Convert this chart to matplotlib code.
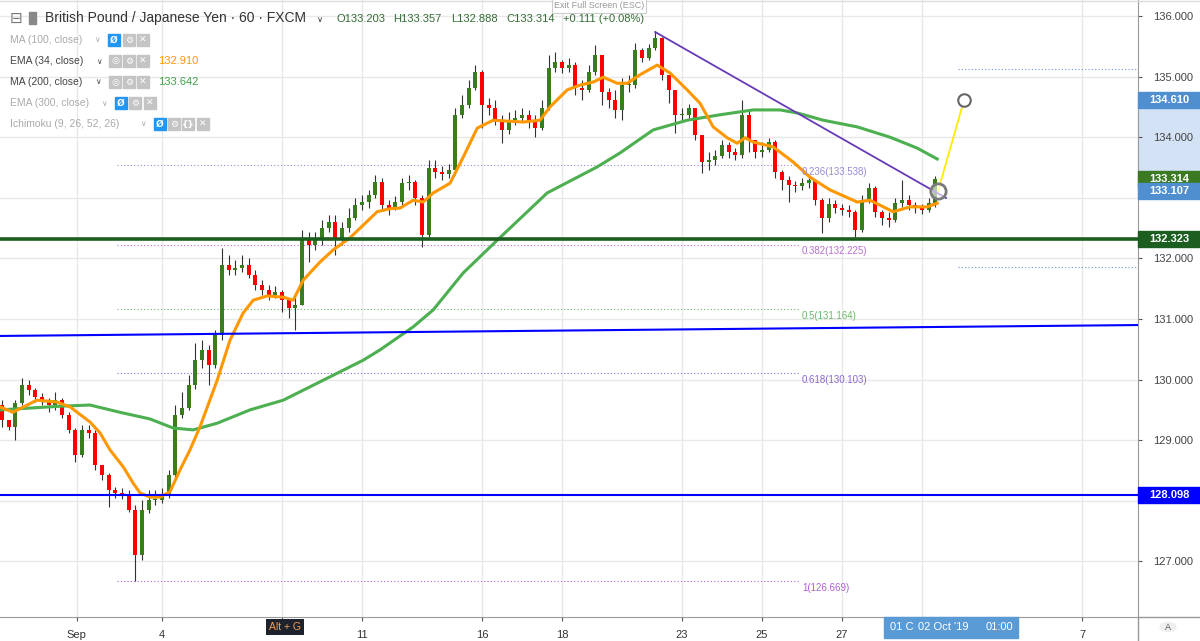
import matplotlib
matplotlib.use('Agg')
import matplotlib.pyplot as plt
import matplotlib.transforms as mtransforms
from matplotlib.patches import Rectangle, Circle
import numpy as np

plt.rcParams['font.family'] = ['Liberation Sans', 'DejaVu Sans']

# GBP/JPY, bars of 4 hours; time axis in trading days (0 = Mon 2 Sep 00:00)
bar_first_t = -2.0
bars_per_day = 6
first_open = 129.58

closes = [129.33, 129.22, 129.61, 129.91, 129.83, 129.71, 129.66, 129.58, 129.66, 129.42,
          129.17, 128.76, 129.17, 129.12, 128.59, 128.43, 128.18, 128.13, 128.11, 127.85,
          127.11, 127.85, 128.01, 128.01, 128.10, 128.43, 129.42, 129.53, 129.91, 130.32,
          130.49, 130.24, 130.74, 131.89, 131.81, 131.84, 131.89, 131.73, 131.56, 131.48,
          131.40, 131.45, 131.31, 131.18, 131.23, 132.30, 132.22, 132.30, 132.50, 132.60,
          132.30, 132.50, 132.67, 132.88, 132.93, 133.05, 133.26, 132.88, 132.83, 132.93,
          133.24, 133.26, 133.00, 132.39, 133.49, 133.43, 133.39, 133.46, 134.37, 134.53,
          134.81, 135.08, 134.53, 134.48, 134.28, 134.12, 134.28, 134.32, 134.37, 134.28,
          134.15, 134.48, 135.14, 135.24, 135.14, 135.19, 134.81, 134.78, 135.08, 135.36,
          134.75, 134.61, 134.45, 134.86, 134.86, 135.44, 135.31, 135.47, 135.64, 135.03,
          134.78, 134.37, 134.37, 134.48, 134.04, 133.59, 133.62, 133.69, 133.87, 133.76,
          133.71, 134.37, 133.95, 133.76, 133.79, 133.92, 133.43, 133.29, 133.21, 133.19,
          133.24, 133.29, 132.96, 132.67, 132.90, 132.83, 132.80, 132.77, 132.47, 132.96,
          133.16, 132.77, 132.67, 132.63, 132.91, 132.96, 132.88, 132.83, 132.80, 132.91,
          133.31]
highs = [129.66, 129.33, 129.66, 130.03, 129.99, 129.86, 129.78, 129.70, 129.80, 129.70,
         129.47, 129.20, 129.25, 129.25, 129.17, 128.59, 128.46, 128.23, 128.21, 128.18,
         127.93, 128.01, 128.18, 128.18, 128.21, 128.51, 129.58, 129.80, 130.08, 130.60,
         130.65, 130.57, 130.82, 132.17, 132.06, 131.97, 132.06, 132.01, 131.81, 131.64,
         131.56, 131.54, 131.48, 131.35, 131.40, 132.47, 132.44, 132.44, 132.63, 132.72,
         132.72, 132.60, 132.83, 133.00, 133.05, 133.13, 133.38, 133.33, 132.96, 133.03,
         133.33, 133.38, 133.29, 133.05, 133.62, 133.62, 133.52, 133.56, 134.48, 134.70,
         134.94, 135.19, 135.11, 134.65, 134.61, 134.37, 134.42, 134.45, 134.48, 134.45,
         134.37, 134.61, 135.36, 135.41, 135.27, 135.31, 135.24, 134.94, 135.19, 135.52,
         135.36, 134.81, 134.78, 134.98, 135.03, 135.55, 135.47, 135.54, 135.75, 135.66,
         135.03, 134.78, 134.48, 134.55, 134.48, 134.04, 133.76, 133.79, 133.95, 133.92,
         133.82, 134.61, 134.45, 133.95, 133.92, 133.99, 133.95, 133.46, 133.36, 133.28,
         133.33, 133.36, 133.29, 133.00, 133.00, 132.96, 132.90, 132.88, 132.80, 133.05,
         133.24, 133.19, 132.80, 132.77, 133.00, 133.29, 133.05, 132.93, 132.90, 133.00,
         133.36]
lows = [129.22, 129.17, 129.00, 129.58, 129.75, 129.63, 129.58, 129.47, 129.50, 129.37,
        129.12, 128.64, 128.72, 129.04, 128.51, 128.34, 127.90, 128.05, 128.03, 127.82,
        126.67, 127.02, 127.80, 127.93, 127.96, 128.05, 128.38, 129.37, 129.50, 129.85,
        130.19, 129.91, 130.19, 130.65, 131.73, 131.73, 131.78, 131.68, 131.48, 131.40,
        131.31, 131.35, 131.12, 131.02, 130.82, 131.23, 131.94, 132.14, 132.22, 132.44,
        132.06, 132.22, 132.44, 132.63, 132.80, 132.83, 133.00, 132.80, 132.72, 132.80,
        132.88, 133.13, 132.88, 132.19, 132.35, 133.33, 133.29, 133.33, 133.38, 134.32,
        134.48, 134.78, 134.15, 134.37, 134.20, 133.90, 134.05, 134.20, 134.25, 134.15,
        134.00, 134.12, 134.45, 135.08, 135.06, 135.08, 134.70, 134.61, 134.75, 135.03,
        134.53, 134.48, 134.32, 134.28, 134.75, 134.81, 135.24, 135.27, 135.44, 134.94,
        134.56, 134.07, 134.25, 134.32, 133.95, 133.41, 133.46, 133.54, 133.66, 133.66,
        133.62, 133.66, 133.76, 133.66, 133.67, 133.76, 133.33, 133.13, 132.93, 133.10,
        133.13, 133.16, 132.88, 132.42, 132.60, 132.75, 132.72, 132.68, 132.35, 132.44,
        132.91, 132.68, 132.55, 132.52, 132.60, 132.85, 132.80, 132.75, 132.73, 132.77,
        132.85]

# EMA(34) and MA(200)
ema34_t = [-2.05, -1.73, -1.13, -0.63, -0.30, 0.20, 0.45, 0.70, 1.03, 1.28, 1.45, 1.70, 1.95,
           2.20, 2.45, 2.70, 2.95, 3.38, 3.70, 4.03, 4.28, 4.63, 5.03, 5.28, 5.53, 5.95, 6.28,
           6.70, 7.38, 7.70, 7.95, 8.28, 8.53, 8.78, 9.20, 9.53, 9.88, 10.28, 11.03, 11.45,
           11.70, 12.13, 12.45, 12.78, 13.03, 13.38, 13.63, 13.95, 14.38, 14.70, 15.13, 15.45,
           15.78, 16.13, 16.38, 16.58, 16.78, 17.28, 17.78, 18.20, 18.70, 19.38, 19.70, 20.28,
           20.70, 21.13, 21.38]
ema34_v = [129.55, 129.46, 129.66, 129.63, 129.55, 129.30, 129.12, 128.84, 128.56, 128.29,
           128.13, 128.06, 128.06, 128.15, 128.51, 128.84, 129.22, 129.99, 130.65, 131.10,
           131.31, 131.38, 131.36, 131.31, 131.64, 131.94, 132.14, 132.34, 132.77, 132.82,
           132.83, 132.96, 132.93, 133.08, 133.24, 133.67, 134.15, 134.28, 134.25, 134.28,
           134.50, 134.78, 134.86, 134.91, 134.99, 134.89, 134.89, 135.03, 135.19, 135.06,
           134.78, 134.56, 134.17, 133.99, 133.90, 133.99, 133.92, 133.84, 133.59, 133.34,
           133.13, 132.93, 132.96, 132.77, 132.85, 132.85, 132.91]
ma200_t = [-2.05, -1.30, -0.55, 0.20, 0.95, 1.70, 2.28, 2.78, 3.38, 4.20, 5.03, 5.88, 7.03,
           7.45, 8.28, 8.78, 9.53, 10.38, 11.63, 12.88, 13.45, 14.28, 15.13, 15.95, 16.78,
           17.45, 17.88, 18.53, 19.38, 20.20, 20.88, 21.38]
ma200_v = [129.50, 129.53, 129.56, 129.58, 129.46, 129.35, 129.20, 129.17, 129.28, 129.50,
           129.66, 129.94, 130.32, 130.49, 130.87, 131.15, 131.76, 132.30, 133.08, 133.51,
           133.74, 134.12, 134.28, 134.37, 134.45, 134.45, 134.40, 134.28, 134.17, 134.00,
           133.82, 133.64]

# fibonacci retracement
fib_names = ['0.236', '0.382', '0.5', '0.618', '1']
fib_levels = [133.538, 132.225, 131.164, 130.103, 126.669]
fib_colors = ['#9a8bd4', '#b86fd0', '#6cb86a', '#8a68cc', '#b05ed6']
fib_t = [0.88, 17.95]

# drawings
support = 132.323
low_line = 128.098
blue_trend_t = [-2.05, 26.4]
blue_trend_v = [130.72, 130.90]
purple_t = [14.33, 21.60]
purple_v = [135.736, 132.997]
target_t = [21.40, 22.05]
target_v = [133.107, 134.610]
range_lines = [135.125, 131.858]

x_ticks = [-0.13, 2, 5, 7, 10, 12, 15, 17, 19, 21, 25]
x_labels = ['Sep', '4', '', '11', '16', '18', '23', '25', '27', '', '7']
y_ticks = [127, 128, 129, 130, 131, 132, 133, 134, 135, 136]
hidden_y = [128, 133]   # covered by price badges

W, H = 1200, 641
fig = plt.figure(figsize=(W / 100, H / 100), dpi=100)
ax = fig.add_axes([0, 24 / H, 1138 / W, 617 / H])
ax.set_xlim(-2.05, 26.4)
ax.set_ylim(126.082, 136.264)

# grid
ax.set_yticks(y_ticks)
ax.set_yticklabels(['' if v in hidden_y else '%.3f' % v for v in y_ticks])
ax.set_xticks(x_ticks)
ax.set_xticklabels(x_labels)
ax.grid(True, color='#e8e8e8', lw=1, zorder=0)
ax.set_axisbelow(True)
ax.yaxis.tick_right()
ax.tick_params(axis='y', colors='#555555', labelsize=8, length=3, pad=8, labelcolor='#444444')
ax.tick_params(axis='x', colors='#555555', labelsize=8, length=3, pad=6, labelcolor='#333333')
for s in ['top', 'left']:
    ax.spines[s].set_visible(False)
ax.spines['right'].set_color('#999999')
ax.spines['bottom'].set_color('#999999')

# candles
o = np.array([first_open] + closes[:-1])
c = np.array(closes)
hi = np.array(highs)
lo = np.array(lows)
bt = bar_first_t + np.arange(len(closes)) / bars_per_day
up = c >= o
ax.vlines(bt, lo, hi, color='#333333', lw=0.8, zorder=2)
body = np.maximum(np.abs(c - o), 0.015)
ax.bar(bt[up], body[up], bottom=np.minimum(o, c)[up], width=0.1, color='#3a7d1e', zorder=2.1)
ax.bar(bt[~up], body[~up], bottom=np.minimum(o, c)[~up], width=0.1, color='#ff0000', zorder=2.1)

# moving averages
ax.plot(ma200_t, ma200_v, color='#4caf50', lw=2.2, zorder=3, solid_joinstyle='round')
ax.plot(ema34_t, ema34_v, color='#ff9800', lw=2.2, zorder=3.1, solid_joinstyle='round')

# fib levels
for name, lev, col in zip(fib_names, fib_levels, fib_colors):
    ax.hlines(lev, fib_t[0], fib_t[1], colors=col, lw=0.8, linestyles=(0, (1, 2)), zorder=1)
    ax.text(fib_t[1] + 0.05, lev - 0.11, '%s(%.3f)' % (name, lev), color=col,
            fontsize=7, va='center', ha='left', zorder=4)

# lines drawn on chart
ax.axhline(support, color='#1b5e20', lw=2.6, zorder=4)
ax.axhline(low_line, color='#0000ff', lw=1.5, zorder=4)
ax.plot(blue_trend_t, blue_trend_v, color='#0000ff', lw=1.5, zorder=4)
ax.plot(purple_t, purple_v, color='#673ab7', lw=1.3, zorder=4)
ax.plot(target_t, target_v, color='#ffeb00', lw=1.3, zorder=4)
ax.plot(target_t[0], target_v[0], 'o', ms=11, mfc=(1, 1, 1, 0.6), mec='#7a7a7a', mew=2, zorder=5)
ax.plot(target_t[1], target_v[1], 'o', ms=9, mfc='white', mec='#666666', mew=1.5, zorder=5)
for lev in range_lines:
    ax.hlines(lev, 21.9, 26.4, colors='#6f95d6', lw=0.8, linestyles=(0, (1, 2)), zorder=1)

# price badges on the right axis
trans = mtransforms.blended_transform_factory(ax.transAxes, ax.transData)
bw = 62 / 1138
ax.add_patch(Rectangle((1.0, target_v[0]), bw, target_v[1] - target_v[0], transform=trans,
                       color='#d3e2f5', clip_on=False, zorder=0.5))


def badge(price, text, col):
    ax.add_patch(Rectangle((1.0, price - 0.135), bw, 0.27, transform=trans, color=col,
                           clip_on=False, zorder=6))
    ax.text(1.0 + bw / 2, price, text, transform=trans, color='white', fontsize=8,
            fontweight='bold', ha='center', va='center', clip_on=False, zorder=7)


badge(134.610, '134.610', '#4f8fcf')
badge(133.314, '133.314', '#3b7a22')
badge(133.107, '133.107', '#4f8fcf')
badge(support, '132.323', '#1b5e20')
badge(low_line, '128.098', '#0000ff')

# frame pieces outside the axes
fig.add_artist(plt.Line2D([1138 / W, 1], [24 / H, 24 / H], color='#999999', lw=1))
fig.add_artist(plt.Line2D([1138 / W, 1138 / W], [0, 24 / H], color='#999999', lw=1))
fig.add_artist(plt.Line2D([0, 1], [1 - 1 / H, 1 - 1 / H], color='#dddddd', lw=1))


def fx(x):
    return x / W


def fy(y):
    return 1 - y / H


# header
fig.text(fx(10), fy(18), '⊟', fontsize=11, color='#777777', va='center', family=['DejaVu Sans'])
fig.add_artist(Rectangle((fx(29), fy(24)), 7 / W, 12 / H, color='#888888'))
fig.text(fx(45), fy(18), 'British Pound / Japanese Yen · 60 · FXCM', fontsize=10,
         color='#333333', va='center')
fig.text(fx(317), fy(19), '∨', fontsize=6, color='#333333', va='center', family=['DejaVu Sans'])
ohlc = [(336, 'O133.203'), (393, 'H133.357'), (451, 'L132.888'), (506, 'C133.314'),
        (563, '+0.111 (+0.08%)')]
for x, s in ohlc:
    fig.text(fx(x), fy(19), s, fontsize=8, color='#356b35', va='center')

fig.text(fx(599), fy(6), 'Exit Full Screen (ESC)', fontsize=6.5, color='#999999', ha='center',
         va='center', bbox=dict(fc='white', ec='#cccccc', lw=0.8, pad=1.5))


def icon(x, y, sym, bg):
    fig.add_artist(Rectangle((fx(x), fy(y + 6)), 12 / W, 12 / H, color=bg))
    fig.text(fx(x + 6), fy(y), sym, fontsize=6.5, color='white', ha='center', va='center',
             fontweight='bold', family=['DejaVu Sans'])


rows = [
    (40, 'MA (100, close)', '#aaaaaa', 94, [(108, 'Ø', '#2196f3'), (123, '⚙', '#c4c4c4'), (137, '✕', '#c4c4c4')], None, None),
    (61, 'EMA (34, close)', '#444444', 96, [(109, '◎', '#c4c4c4'), (123, '⚙', '#c4c4c4'), (137, '✕', '#c4c4c4')], '132.910', '#ff9800'),
    (82, 'MA (200, close)', '#444444', 95, [(109, '◎', '#c4c4c4'), (123, '⚙', '#c4c4c4'), (137, '✕', '#c4c4c4')], '133.642', '#43a047'),
    (103, 'EMA (300, close)', '#aaaaaa', 101, [(115, 'Ø', '#2196f3'), (129, '⚙', '#c4c4c4'), (144, '✕', '#c4c4c4')], None, None),
    (124, 'Ichimoku (9, 26, 52, 26)', '#aaaaaa', 140, [(154, 'Ø', '#2196f3'), (168, '⚙', '#c4c4c4'), (182, '{}', '#c4c4c4'), (197, '✕', '#c4c4c4')], None, None),
]
for y, label, col, ax_x, icons, val, vcol in rows:
    fig.text(fx(10), fy(y), label, fontsize=7.5, color=col, va='center')
    fig.text(fx(ax_x), fy(y), '∨', fontsize=5.5, color=col, va='center', family=['DejaVu Sans'])
    for ix, sym, bg in icons:
        icon(ix, y, sym, bg)
    if val:
        fig.text(fx(158), fy(y), val, fontsize=8, color=vcol, va='center')

# bottom bar bits
fig.text(fx(285), fy(627), 'Alt + G', fontsize=7.5, color='#f0a050', ha='center', va='center',
         bbox=dict(fc='#1e222d', ec='none', pad=2.5))
fig.add_artist(Rectangle((fx(884), fy(638)), 134 / W, 21 / H, color='#5b9bd5'))
fig.text(fx(890), fy(627), '01 C', fontsize=8, color='white', va='center')
fig.text(fx(918), fy(627), "02 Oct '19", fontsize=8, color='white', va='center')
fig.text(fx(986), fy(627), '01:00', fontsize=8, color='white', va='center')
fig.add_artist(Circle((fx(1168), fy(627)), 8 / W, color='#eeeeee'))
fig.text(fx(1168), fy(627), 'A', fontsize=6.5, color='#555555', ha='center', va='center')

fig.savefig('out.png', dpi=100)
